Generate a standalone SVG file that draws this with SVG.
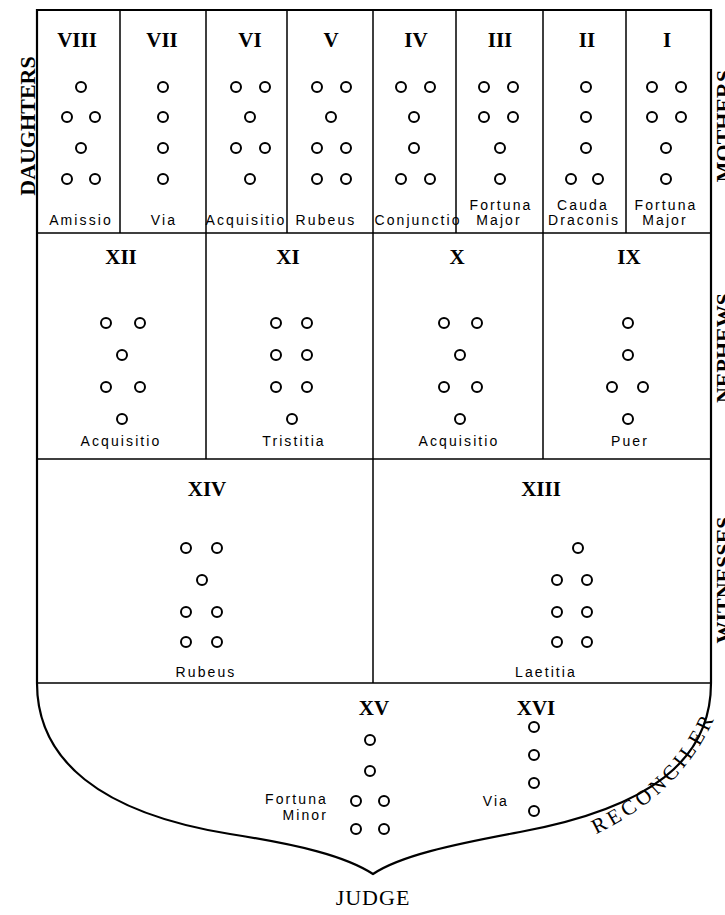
<svg xmlns="http://www.w3.org/2000/svg" width="725" height="915" viewBox="0 0 725 915">
<style>
.bg{fill:#fff}
.fr{fill:none;stroke:#000;stroke-width:2.2}
.ln{fill:none;stroke:#000;stroke-width:1.5}
.d{fill:none;stroke:#000;stroke-width:2}
.num{font-family:"Liberation Serif","Times New Roman",serif;font-weight:bold;font-size:21px;text-anchor:middle;fill:#000}
.lab{font-family:"Liberation Sans",Arial,sans-serif;font-size:14px;letter-spacing:2.1px;text-anchor:middle;fill:#000}
.side{font-family:"Liberation Serif","Times New Roman",serif;font-weight:bold;font-size:22px;text-anchor:middle;fill:#000}
.big{font-family:"Liberation Serif","Times New Roman",serif;font-size:22px;text-anchor:middle;fill:#000}
</style>
<defs>
<circle id="o" r="5" class="d"/>
<path id="rp" d="M596,834 C642,812 694,776 722,700" fill="none"/>
</defs>
<rect class="bg" x="0" y="0" width="725" height="915"/>
<g id="frame">
<path class="fr" d="M37,683 V10 H711 V683 C711,760 650,808 520,832 C450,845 400,856 373,874 C345,856 300,845 230,834 C100,813 37,760 37,683 Z"/>
<path class="ln" d="M37,233 H711 M37,459 H711 M37,683 H711 M120,10 V233 M206,10 V459 M287,10 V233 M373,10 V683 M456,10 V233 M543,10 V459 M626,10 V233"/>
</g>
<g id="connectors"></g>
<g id="fig8"><text class="num" x="77" y="47">VIII</text>
<use href="#o" x="81" y="87"/><use href="#o" x="67" y="117"/><use href="#o" x="95" y="117"/><use href="#o" x="81" y="148"/><use href="#o" x="67" y="179"/><use href="#o" x="95" y="179"/>
<text class="lab" x="81" y="225">Amissio</text></g>
<g id="fig7"><text class="num" x="162" y="47">VII</text>
<use href="#o" x="163" y="87"/><use href="#o" x="163" y="117"/><use href="#o" x="163" y="148"/><use href="#o" x="163" y="179"/>
<text class="lab" x="164" y="225">Via</text></g>
<g id="fig6"><text class="num" x="250" y="47">VI</text>
<use href="#o" x="236" y="87"/><use href="#o" x="265" y="87"/><use href="#o" x="250" y="117"/><use href="#o" x="236" y="148"/><use href="#o" x="265" y="148"/><use href="#o" x="250" y="179"/>
<text class="lab" x="246" y="225">Acquisitio</text></g>
<g id="fig5"><text class="num" x="331" y="47">V</text>
<use href="#o" x="317" y="87"/><use href="#o" x="346" y="87"/><use href="#o" x="331" y="117"/><use href="#o" x="317" y="148"/><use href="#o" x="346" y="148"/><use href="#o" x="317" y="179"/><use href="#o" x="346" y="179"/>
<text class="lab" x="326" y="225">Rubeus</text></g>
<g id="fig4"><text class="num" x="416" y="47">IV</text>
<use href="#o" x="401" y="87"/><use href="#o" x="430" y="87"/><use href="#o" x="414" y="117"/><use href="#o" x="414" y="148"/><use href="#o" x="401" y="179"/><use href="#o" x="430" y="179"/>
<text class="lab" x="418" y="225">Conjunctio</text></g>
<g id="fig3"><text class="num" x="500" y="47">III</text>
<use href="#o" x="484" y="87"/><use href="#o" x="513" y="87"/><use href="#o" x="484" y="117"/><use href="#o" x="513" y="117"/><use href="#o" x="500" y="148"/><use href="#o" x="500" y="179"/>
<text class="lab" x="501" y="210">Fortuna</text><text class="lab" x="499" y="225">Major</text></g>
<g id="fig2"><text class="num" x="587" y="47">II</text>
<use href="#o" x="586" y="87"/><use href="#o" x="586" y="117"/><use href="#o" x="586" y="148"/><use href="#o" x="571" y="179"/><use href="#o" x="598" y="179"/>
<text class="lab" x="583" y="210">Cauda</text><text class="lab" x="584" y="225">Draconis</text></g>
<g id="fig1"><text class="num" x="667" y="47">I</text>
<use href="#o" x="652" y="87"/><use href="#o" x="681" y="87"/><use href="#o" x="652" y="117"/><use href="#o" x="681" y="117"/><use href="#o" x="666" y="148"/><use href="#o" x="666" y="179"/>
<text class="lab" x="666" y="210">Fortuna</text><text class="lab" x="665" y="225">Major</text></g>
<g id="fig12"><text class="num" x="121" y="264">XII</text>
<use href="#o" x="106" y="323"/><use href="#o" x="140" y="323"/><use href="#o" x="122" y="355"/><use href="#o" x="106" y="387"/><use href="#o" x="140" y="387"/><use href="#o" x="122" y="419"/>
<text class="lab" x="121" y="446">Acquisitio</text></g>
<g id="fig11"><text class="num" x="288" y="264">XI</text>
<use href="#o" x="276" y="323"/><use href="#o" x="307" y="323"/><use href="#o" x="276" y="355"/><use href="#o" x="307" y="355"/><use href="#o" x="276" y="387"/><use href="#o" x="307" y="387"/><use href="#o" x="292" y="419"/>
<text class="lab" x="294" y="446">Tristitia</text></g>
<g id="fig10"><text class="num" x="457" y="264">X</text>
<use href="#o" x="444" y="323"/><use href="#o" x="477" y="323"/><use href="#o" x="460" y="355"/><use href="#o" x="444" y="387"/><use href="#o" x="477" y="387"/><use href="#o" x="460" y="419"/>
<text class="lab" x="459" y="446">Acquisitio</text></g>
<g id="fig9"><text class="num" x="629" y="264">IX</text>
<use href="#o" x="628" y="323"/><use href="#o" x="628" y="355"/><use href="#o" x="612" y="387"/><use href="#o" x="643" y="387"/><use href="#o" x="628" y="419"/>
<text class="lab" x="630" y="446">Puer</text></g>
<g id="fig14"><text class="num" x="207" y="496">XIV</text>
<use href="#o" x="186" y="548"/><use href="#o" x="217" y="548"/><use href="#o" x="202" y="580"/><use href="#o" x="186" y="612"/><use href="#o" x="217" y="612"/><use href="#o" x="186" y="642"/><use href="#o" x="217" y="642"/>
<text class="lab" x="206" y="677">Rubeus</text></g>
<g id="fig13"><text class="num" x="541" y="496">XIII</text>
<use href="#o" x="578" y="548"/><use href="#o" x="557" y="580"/><use href="#o" x="587" y="580"/><use href="#o" x="557" y="612"/><use href="#o" x="587" y="612"/><use href="#o" x="557" y="642"/><use href="#o" x="587" y="642"/>
<text class="lab" x="546" y="677">Laetitia</text></g>
<g id="fig15"><text class="num" x="374" y="715">XV</text>
<use href="#o" x="370" y="740"/><use href="#o" x="370" y="771"/><use href="#o" x="356" y="801"/><use href="#o" x="384" y="801"/><use href="#o" x="356" y="829"/><use href="#o" x="384" y="829"/>
<text class="lab" x="328" y="804" style="text-anchor:end">Fortuna</text><text class="lab" x="328" y="820" style="text-anchor:end">Minor</text></g>
<g id="fig16"><text class="num" x="536" y="715">XVI</text>
<use href="#o" x="534" y="727"/><use href="#o" x="534" y="755"/><use href="#o" x="534" y="783"/><use href="#o" x="534" y="811"/>
<text class="lab" x="509" y="806" style="text-anchor:end">Via</text></g>
<g id="labels">
<text class="side" transform="translate(35,126) rotate(-90)">DAUGHTERS</text>
<text class="side" transform="translate(731,126) rotate(-90)">MOTHERS</text>
<text class="side" transform="translate(731,348) rotate(-90)">NEPHEWS</text>
<text class="side" transform="translate(731,580) rotate(-90)">WITNESSES</text>
<text class="big" style="font-size:21px;letter-spacing:4px;text-anchor:start"><textPath href="#rp">RECONCILER</textPath></text>
<text class="big" x="373" y="905" style="letter-spacing:1px">JUDGE</text>
</g>
</svg>
